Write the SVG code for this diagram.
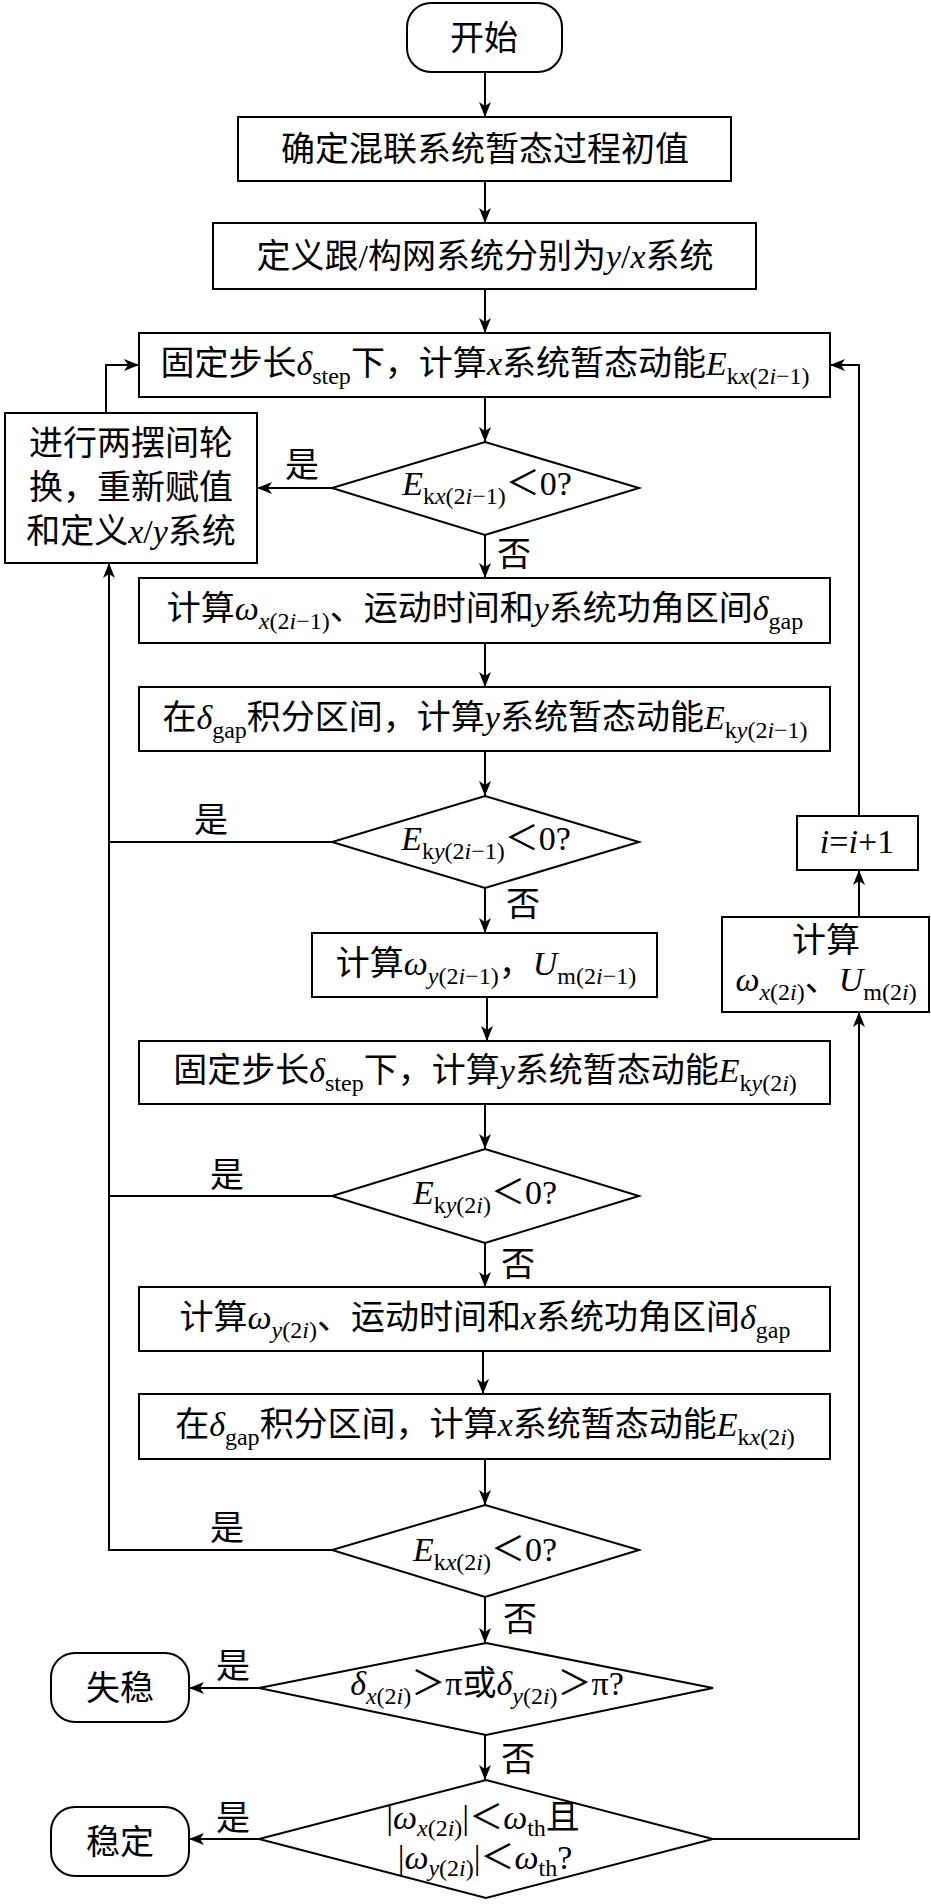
<svg xmlns="http://www.w3.org/2000/svg" width="931" height="1904" viewBox="0 0 931 1904">
<style>
.box{fill:#fff;stroke:#000;stroke-width:2}
.ln{fill:none;stroke:#000;stroke-width:2}
.t{font-family:'Liberation Serif','Noto Sans CJK SC',serif;font-size:34px;fill:#000}
.m{text-anchor:middle}
.i{font-style:italic}
.s{font-size:24px}
</style>
<defs>
<marker id="ah" markerUnits="userSpaceOnUse" markerWidth="16" markerHeight="12" refX="15" refY="6" orient="auto">
<path d="M0,0 L15,6 L0,12 L4,6 z" fill="#000"/>
</marker>
</defs>
<rect width="931" height="1904" fill="#fff"/>

<g id="connectors">
<line class="ln" x1="485" y1="72" x2="485" y2="117" marker-end="url(#ah)"/>
<line class="ln" x1="485" y1="181" x2="485" y2="223" marker-end="url(#ah)"/>
<line class="ln" x1="485" y1="289" x2="485" y2="333" marker-end="url(#ah)"/>
<line class="ln" x1="485" y1="397" x2="485" y2="442" marker-end="url(#ah)"/>
<line class="ln" x1="332" y1="488" x2="257" y2="488" marker-end="url(#ah)"/>
<polyline class="ln" points="106,413 106,365 139,365" marker-end="url(#ah)"/>
<line class="ln" x1="485" y1="535" x2="485" y2="578" marker-end="url(#ah)"/>
<line class="ln" x1="485" y1="643" x2="485" y2="687" marker-end="url(#ah)"/>
<line class="ln" x1="485" y1="751" x2="485" y2="796" marker-end="url(#ah)"/>
<line class="ln" x1="332" y1="842" x2="109" y2="842"/>
<line class="ln" x1="485" y1="888" x2="485" y2="933" marker-end="url(#ah)"/>
<line class="ln" x1="487" y1="997" x2="487" y2="1041" marker-end="url(#ah)"/>
<line class="ln" x1="485" y1="1104" x2="485" y2="1149" marker-end="url(#ah)"/>
<line class="ln" x1="332" y1="1196" x2="109" y2="1196"/>
<line class="ln" x1="485" y1="1243" x2="485" y2="1287" marker-end="url(#ah)"/>
<line class="ln" x1="483" y1="1351" x2="483" y2="1394" marker-end="url(#ah)"/>
<line class="ln" x1="485" y1="1459" x2="485" y2="1505" marker-end="url(#ah)"/>
<polyline class="ln" points="332,1550 109,1550 109,563" marker-end="url(#ah)"/>
<line class="ln" x1="485" y1="1597" x2="485" y2="1643" marker-end="url(#ah)"/>
<line class="ln" x1="259" y1="1688" x2="189" y2="1688" marker-end="url(#ah)"/>
<line class="ln" x1="485" y1="1735" x2="485" y2="1780" marker-end="url(#ah)"/>
<line class="ln" x1="259" y1="1839" x2="189" y2="1839" marker-end="url(#ah)"/>
<polyline class="ln" points="713,1839 859,1839 859,1012" marker-end="url(#ah)"/>
<line class="ln" x1="859" y1="917" x2="859" y2="870" marker-end="url(#ah)"/>
<polyline class="ln" points="859,816 859,365 830,365" marker-end="url(#ah)"/>
<text class="t m" x="302" y="477">是</text>
<text class="t m" x="211" y="832">是</text>
<text class="t m" x="227" y="1187">是</text>
<text class="t m" x="227" y="1540">是</text>
<text class="t m" x="233" y="1678">是</text>
<text class="t m" x="233" y="1830">是</text>
<text class="t m" x="514" y="566">否</text>
<text class="t m" x="523" y="916">否</text>
<text class="t m" x="518" y="1276">否</text>
<text class="t m" x="520" y="1631">否</text>
<text class="t m" x="518" y="1771">否</text>
</g>

<g id="start">
<rect class="box" x="407" y="3" width="155" height="69" rx="24" ry="24"/>
<text class="t m" x="484" y="50">开始</text>
</g>

<g id="init">
<rect class="box" x="238" y="117" width="493" height="64"/>
<text class="t m" x="485" y="161">确定混联系统暂态过程初值</text>
</g>

<g id="define">
<rect class="box" x="213" y="223" width="543" height="66"/>
<text class="t m" x="485" y="268">定义跟/构网系统分别为<tspan class="i">y</tspan>/<tspan class="i">x</tspan>系统</text>
</g>

<g id="calc-ekx1">
<rect class="box" x="139" y="333" width="691" height="64"/>
<text class="t m" x="485" y="375">固定步长<tspan class="i">δ</tspan><tspan class="s" dy="9">step</tspan><tspan dy="-9">下，计算</tspan><tspan class="i">x</tspan>系统暂态动能<tspan class="i">E</tspan><tspan class="s" dy="9">k<tspan class="i">x</tspan>(2<tspan class="i">i</tspan>−1)</tspan></text>
</g>

<g id="swap">
<rect class="box" x="5" y="413" width="252" height="150"/>
<text class="t m" x="131" y="455">进行两摆间轮</text>
<text class="t m" x="131" y="499">换，重新赋值</text>
<text class="t m" x="131" y="543">和定义<tspan class="i">x</tspan>/<tspan class="i">y</tspan>系统</text>
</g>

<g id="dec1">
<polygon class="box" points="485,442 639,488 485,535 332,488"/>
<text class="t m" x="487" y="495"><tspan class="i">E</tspan><tspan class="s" dy="9">k<tspan class="i">x</tspan>(2<tspan class="i">i</tspan>−1)</tspan><tspan dy="-9">＜0?</tspan></text>
</g>

<g id="calc-wx1">
<rect class="box" x="139" y="578" width="691" height="65"/>
<text class="t m" x="485" y="620">计算<tspan class="i">ω</tspan><tspan class="s" dy="9"><tspan class="i">x</tspan>(2<tspan class="i">i</tspan>−1)</tspan><tspan dy="-9">、运动时间和</tspan><tspan class="i">y</tspan>系统功角区间<tspan class="i">δ</tspan><tspan class="s" dy="9">gap</tspan></text>
</g>

<g id="calc-eky1">
<rect class="box" x="139" y="687" width="691" height="64"/>
<text class="t m" x="485" y="729">在<tspan class="i">δ</tspan><tspan class="s" dy="9">gap</tspan><tspan dy="-9">积分区间，计算</tspan><tspan class="i">y</tspan>系统暂态动能<tspan class="i">E</tspan><tspan class="s" dy="9">k<tspan class="i">y</tspan>(2<tspan class="i">i</tspan>−1)</tspan></text>
</g>

<g id="dec2">
<polygon class="box" points="485,796 639,842 485,888 332,842"/>
<text class="t m" x="486" y="850"><tspan class="i">E</tspan><tspan class="s" dy="9">k<tspan class="i">y</tspan>(2<tspan class="i">i</tspan>−1)</tspan><tspan dy="-9">＜0?</tspan></text>
</g>

<g id="calc-wy1">
<rect class="box" x="312" y="933" width="345" height="64"/>
<text class="t m" x="486" y="975">计算<tspan class="i">ω</tspan><tspan class="s" dy="9"><tspan class="i">y</tspan>(2<tspan class="i">i</tspan>−1)</tspan><tspan dy="-9">，</tspan><tspan class="i">U</tspan><tspan class="s" dy="9">m(2<tspan class="i">i</tspan>−1)</tspan></text>
</g>

<g id="calc-eky2">
<rect class="box" x="139" y="1041" width="691" height="63"/>
<text class="t m" x="485" y="1082">固定步长<tspan class="i">δ</tspan><tspan class="s" dy="9">step</tspan><tspan dy="-9">下，计算</tspan><tspan class="i">y</tspan>系统暂态动能<tspan class="i">E</tspan><tspan class="s" dy="9">k<tspan class="i">y</tspan>(2<tspan class="i">i</tspan>)</tspan></text>
</g>

<g id="dec3">
<polygon class="box" points="485,1149 639,1196 485,1243 332,1196"/>
<text class="t m" x="485" y="1204"><tspan class="i">E</tspan><tspan class="s" dy="9">k<tspan class="i">y</tspan>(2<tspan class="i">i</tspan>)</tspan><tspan dy="-9">＜0?</tspan></text>
</g>

<g id="calc-wy2">
<rect class="box" x="139" y="1287" width="691" height="64"/>
<text class="t m" x="485" y="1329">计算<tspan class="i">ω</tspan><tspan class="s" dy="9"><tspan class="i">y</tspan>(2<tspan class="i">i</tspan>)</tspan><tspan dy="-9">、运动时间和</tspan><tspan class="i">x</tspan>系统功角区间<tspan class="i">δ</tspan><tspan class="s" dy="9">gap</tspan></text>
</g>

<g id="calc-ekx2">
<rect class="box" x="139" y="1394" width="691" height="65"/>
<text class="t m" x="485" y="1436">在<tspan class="i">δ</tspan><tspan class="s" dy="9">gap</tspan><tspan dy="-9">积分区间，计算</tspan><tspan class="i">x</tspan>系统暂态动能<tspan class="i">E</tspan><tspan class="s" dy="9">k<tspan class="i">x</tspan>(2<tspan class="i">i</tspan>)</tspan></text>
</g>

<g id="dec4">
<polygon class="box" points="485,1505 639,1550 485,1597 332,1550"/>
<text class="t m" x="485" y="1561"><tspan class="i">E</tspan><tspan class="s" dy="9">k<tspan class="i">x</tspan>(2<tspan class="i">i</tspan>)</tspan><tspan dy="-9">＜0?</tspan></text>
</g>

<g id="dec5">
<polygon class="box" points="486,1643 713,1688 486,1735 259,1688"/>
<text class="t m" x="487" y="1695"><tspan class="i">δ</tspan><tspan class="s" dy="9"><tspan class="i">x</tspan>(2<tspan class="i">i</tspan>)</tspan><tspan dy="-9">＞π或</tspan><tspan class="i">δ</tspan><tspan class="s" dy="9"><tspan class="i">y</tspan>(2<tspan class="i">i</tspan>)</tspan><tspan dy="-9">＞π?</tspan></text>
</g>

<g id="dec6">
<polygon class="box" points="486,1780 713,1839 486,1898 259,1839"/>
<text class="t m" x="483" y="1829">|<tspan class="i">ω</tspan><tspan class="s" dy="7"><tspan class="i">x</tspan>(2<tspan class="i">i</tspan>)</tspan><tspan dy="-7">|＜</tspan><tspan class="i">ω</tspan><tspan class="s" dy="7">th</tspan><tspan dy="-7">且</tspan></text>
<text class="t m" x="485" y="1869">|<tspan class="i">ω</tspan><tspan class="s" dy="7"><tspan class="i">y</tspan>(2<tspan class="i">i</tspan>)</tspan><tspan dy="-7">|＜</tspan><tspan class="i">ω</tspan><tspan class="s" dy="7">th</tspan><tspan dy="-7">?</tspan></text>
</g>

<g id="unstable">
<rect class="box" x="51" y="1653" width="138" height="69" rx="24" ry="24"/>
<text class="t m" x="120" y="1700">失稳</text>
</g>

<g id="stable">
<rect class="box" x="51" y="1807" width="138" height="69" rx="24" ry="24"/>
<text class="t m" x="120" y="1854">稳定</text>
</g>

<g id="calc-wx2">
<rect class="box" x="722" y="917" width="207" height="95"/>
<text class="t m" x="826" y="952">计算</text>
<text class="t m" x="826" y="991"><tspan class="i">ω</tspan><tspan class="s" dy="9"><tspan class="i">x</tspan>(2<tspan class="i">i</tspan>)</tspan><tspan dy="-9">、</tspan><tspan class="i">U</tspan><tspan class="s" dy="9">m(2<tspan class="i">i</tspan>)</tspan></text>
</g>

<g id="incr">
<rect class="box" x="797" y="816" width="121" height="54"/>
<text class="t m" x="857" y="853"><tspan class="i">i</tspan>=<tspan class="i">i</tspan>+1</text>
</g>
</svg>
